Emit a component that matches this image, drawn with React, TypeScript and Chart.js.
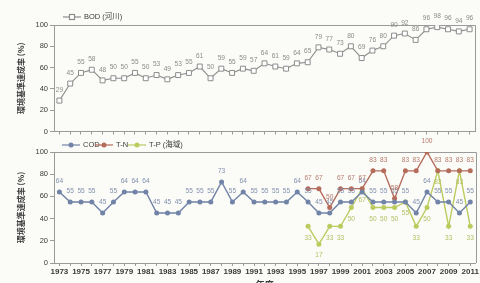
import React, { useEffect, useRef } from 'react';
import { Chart, registerables } from 'chart.js';

Chart.register(...registerables);

const YEARS = [
  '1973', '1974', '1975', '1976', '1977', '1978', '1979', '1980', '1981', '1982',
  '1983', '1984', '1985', '1986', '1987', '1988', '1989', '1990', '1991', '1992',
  '1993', '1994', '1995', '1996', '1997', '1998', '1999', '2000', '2001', '2002',
  '2003', '2004', '2005', '2006', '2007', '2008', '2009', '2010', '2011',
];

const BOD = [
  29, 45, 55, 58, 48, 50, 50, 55, 50, 53,
  49, 53, 55, 61, 50, 59, 55, 59, 57, 64,
  61, 59, 64, 65, 79, 77, 73, 80, 69, 76,
  80, 90, 92, 86, 96, 98, 96, 94, 96,
];

const COD = [
  64, 55, 55, 55, 45, 55, 64, 64, 64, 45,
  45, 45, 55, 55, 55, 73, 55, 64, 55, 55,
  55, 55, 64, 55, 45, 45, 55, 55, 64, 55,
  55, 55, 55, 45, 64, 55, 55, 45, 55,
];

const TN = [
  null, null, null, null, null, null, null, null, null, null,
  null, null, null, null, null, null, null, null, null, null,
  null, null, null, 67, 67, 50, 67, 67, 67, 83,
  83, 58, 83, 83, 100, 83, 83, 83, 83,
];

const TP = [
  null, null, null, null, null, null, null, null, null, null,
  null, null, null, null, null, null, null, null, null, null,
  null, null, null, 33, 17, 33, 33, 50, 67, 50,
  50, 50, 55, 33, 50, 83, 33, 83, 33,
];

const Y_TITLE = '環境基準達成率 (%)';
const X_TITLE = '年度';

const SANS = "'Liberation Sans', 'Noto Sans CJK JP', sans-serif";
const CJK = "'Noto Sans CJK JP', sans-serif";

const C_BOD = '#8c8c8c';
const C_COD = '#7183a6';
const C_TN = '#b56c5b';
const C_TP = '#bccb5e';
const AXIS = '#9a9a9a';
const TXT = '#3a3a3a';

const valueLabels = {
  id: 'valueLabels',
  afterDatasetsDraw(chart: any) {
    const ctx = chart.ctx;
    chart.data.datasets.forEach((ds: any, i: number) => {
      const meta = chart.getDatasetMeta(i);
      meta.data.forEach((el: any, j: number) => {
        const v = ds.data[j];
        if (v === null || v === undefined) return;
        const dy = ds.labelPos === 'below' ? 11 : -11;
        ctx.save();
        ctx.translate(el.x, el.y + dy);
        ctx.scale(0.82, 1);
        ctx.font = `8px ${SANS}`;
        ctx.fillStyle = ds.labelColor;
        ctx.textAlign = 'center';
        ctx.textBaseline = 'middle';
        ctx.fillText(String(v), 0, 0);
        ctx.restore();
      });
    });
  },
};

const plotBox = {
  id: 'plotBox',
  beforeDatasetsDraw(chart: any) {
    const { ctx, chartArea } = chart;
    ctx.save();
    ctx.strokeStyle = AXIS;
    ctx.lineWidth = 1;
    ctx.beginPath();
    ctx.moveTo(chartArea.left, Math.round(chartArea.top) + 0.5);
    ctx.lineTo(Math.round(chartArea.right) + 0.5, Math.round(chartArea.top) + 0.5);
    ctx.lineTo(Math.round(chartArea.right) + 0.5, chartArea.bottom);
    ctx.stroke();
    ctx.restore();
  },
};

const customLegend = {
  id: 'customLegend',
  afterDraw(chart: any, _args: any, opts: any) {
    const ctx = chart.ctx;
    (opts.items || []).forEach((it: any) => {
      ctx.save();
      ctx.strokeStyle = it.color;
      ctx.lineWidth = 1.2;
      ctx.beginPath();
      ctx.moveTo(it.x, it.y);
      ctx.lineTo(it.x + 18, it.y);
      ctx.stroke();
      const mx = it.x + 9;
      if (it.style === 'rect') {
        ctx.fillStyle = '#ffffff';
        ctx.fillRect(mx - 2.5, it.y - 2.5, 5, 5);
        ctx.strokeRect(mx - 2.5, it.y - 2.5, 5, 5);
      } else {
        ctx.fillStyle = it.color;
        ctx.beginPath();
        ctx.arc(mx, it.y, 2.5, 0, Math.PI * 2);
        ctx.fill();
      }
      ctx.font = `7.5px ${SANS}`;
      ctx.fillStyle = TXT;
      ctx.textAlign = 'left';
      ctx.textBaseline = 'middle';
      ctx.fillText(it.text, it.x + 21, it.y);
      ctx.restore();
    });
  },
};

function yScale() {
  return {
    min: 0,
    max: 100,
    ticks: {
      stepSize: 20,
      padding: 2,
      color: TXT,
      font: { size: 7.5, family: SANS },
    },
    grid: { drawOnChartArea: false, drawTicks: true, tickLength: 4, color: AXIS },
    border: { display: true, color: AXIS },
    title: {
      display: true,
      text: Y_TITLE,
      color: TXT,
      font: { size: 8, family: CJK, weight: 'bold' },
      padding: { top: 16, bottom: 0 },
    },
    afterFit(scale: any) {
      scale.width = 54;
    },
  };
}

export default function App() {
  const topRef = useRef<HTMLCanvasElement>(null);
  const botRef = useRef<HTMLCanvasElement>(null);

  useEffect(() => {
    const top = new Chart(topRef.current as HTMLCanvasElement, {
      type: 'line',
      data: {
        labels: YEARS,
        datasets: [
          {
            label: 'BOD (河川)',
            data: BOD,
            borderColor: C_BOD,
            borderWidth: 1.1,
            pointStyle: 'rect',
            pointRadius: 3.5,
            pointBackgroundColor: '#ffffff',
            pointBorderColor: C_BOD,
            pointBorderWidth: 1,
            tension: 0,
            labelColor: '#8a8a8a',
            labelPos: 'above',
          } as any,
        ],
      },
      options: {
        responsive: false,
        animation: false,
        devicePixelRatio: 1,
        layout: { padding: { top: 25, right: 2, left: 0, bottom: 0 } },
        plugins: {
          legend: { display: false },
          tooltip: { enabled: false },
          customLegend: {
            items: [{ text: 'BOD (河川)', color: C_BOD, x: 63, y: 17, style: 'rect' }],
          },
        } as any,
        scales: {
          x: {
            offset: true,
            ticks: { display: false },
            grid: { drawOnChartArea: false, drawTicks: true, tickLength: 3, color: AXIS },
            border: { display: true, color: AXIS },
            afterFit(scale: any) {
              scale.height = 6;
            },
          },
          y: yScale() as any,
        },
      },
      plugins: [valueLabels, plotBox, customLegend],
    });

    const bottom = new Chart(botRef.current as HTMLCanvasElement, {
      type: 'line',
      data: {
        labels: YEARS,
        datasets: [
          {
            label: 'COD',
            data: COD,
            borderColor: C_COD,
            backgroundColor: C_COD,
            borderWidth: 1.4,
            pointRadius: 2.5,
            pointBackgroundColor: C_COD,
            pointBorderWidth: 0,
            tension: 0,
            labelColor: '#8090ad',
            labelPos: 'above',
          } as any,
          {
            label: 'T-N',
            data: TN,
            borderColor: C_TN,
            backgroundColor: C_TN,
            borderWidth: 1.4,
            pointRadius: 2.5,
            pointBackgroundColor: C_TN,
            pointBorderWidth: 0,
            tension: 0,
            labelColor: '#b5786a',
            labelPos: 'above',
          } as any,
          {
            label: 'T-P (海域)',
            data: TP,
            borderColor: C_TP,
            backgroundColor: C_TP,
            borderWidth: 1.4,
            pointRadius: 2.5,
            pointBackgroundColor: C_TP,
            pointBorderWidth: 0,
            tension: 0,
            labelColor: '#b3bf62',
            labelPos: 'below',
          } as any,
        ],
      },
      options: {
        responsive: false,
        animation: false,
        devicePixelRatio: 1,
        layout: { padding: { top: 14, right: 2, left: 0, bottom: 0 } },
        plugins: {
          legend: { display: false },
          tooltip: { enabled: false },
          customLegend: {
            items: [
              { text: 'COD', color: C_COD, x: 62, y: 7, style: 'circle' },
              { text: 'T-N', color: C_TN, x: 95, y: 7, style: 'circle' },
              { text: 'T-P (海域)', color: C_TP, x: 128, y: 7, style: 'circle' },
            ],
          },
        } as any,
        scales: {
          x: {
            offset: true,
            ticks: {
              autoSkip: false,
              maxRotation: 0,
              padding: 1,
              color: TXT,
              font: { size: 8, family: SANS, weight: 'bold' },
              callback: (_v: any, i: number) => (i % 2 === 0 ? YEARS[i] : ''),
            },
            grid: { drawOnChartArea: false, drawTicks: true, tickLength: 3, color: AXIS },
            border: { display: true, color: AXIS },
            title: {
              display: true,
              text: X_TITLE,
              color: TXT,
              font: { size: 9, family: CJK, weight: 'bold' },
              padding: { top: 0, bottom: 3 },
            },
            afterFit(scale: any) {
              scale.height = 30;
            },
          },
          y: yScale() as any,
        },
      },
      plugins: [valueLabels, plotBox, customLegend],
    });

    return () => {
      top.destroy();
      bottom.destroy();
    };
  }, []);

  return (
    <div
      style={{
        position: 'fixed',
        left: 0,
        top: 0,
        width: 480,
        height: 283,
        overflow: 'hidden',
        background: '#fbfbf8',
      }}
    >
      <canvas ref={topRef} width={480} height={138} style={{ position: 'absolute', left: 0, top: 0 }} />
      <canvas ref={botRef} width={480} height={155} style={{ position: 'absolute', left: 0, top: 138 }} />
    </div>
  );
}
